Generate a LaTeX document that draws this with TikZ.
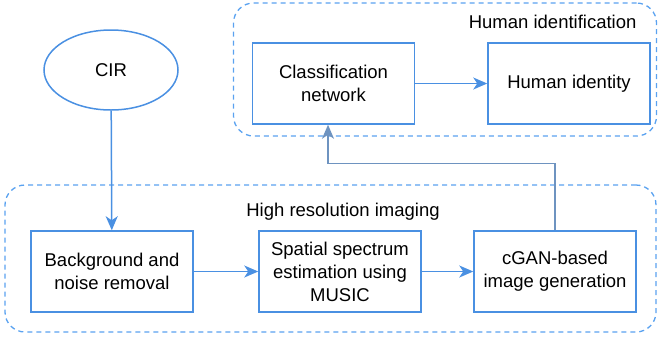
\documentclass[tikz,border=0pt]{standalone}
\usepackage{fontspec}
\setmainfont{Liberation Sans}
\usepackage{xcolor}
\usetikzlibrary{positioning,arrows.meta,shapes.geometric}
\definecolor{lineblue}{HTML}{4A90E2}
\definecolor{groupblue}{HTML}{5AA2F0}
\definecolor{fbgray}{HTML}{6E93C0}

\begin{document}
\begin{tikzpicture}[
  x=1pt, y=-1pt,
  font=\fontsize{18.5}{23}\selectfont,
  block/.style={draw=lineblue, line width=1.5pt, minimum width=162pt, minimum height=81pt, align=center, inner sep=2pt},
  source/.style={ellipse, draw=lineblue, line width=1.5pt, minimum width=134pt, minimum height=80pt},
  group/.style={draw=groupblue, line width=1.3pt, dashed, dash pattern=on 5pt off 4pt, rounded corners=20pt, minimum width=#1},
  arrow/.style={-{Stealth[length=14pt,width=12pt,inset=4pt]}, draw=lineblue, line width=1.5pt},
  fb/.style={arrow, draw=fbgray},
]
\useasboundingbox (0,0) rectangle (658,341);
% groups
\node[group=423pt, minimum height=133pt] (hidgrp) at (445,69.5) {};
\node[group=651pt, minimum height=147pt] (imggrp) at (330.5,258.5) {};
\node[anchor=east] (hidlbl) at (640,22) {Human identification};
\node (imglbl) at (343,212) {High resolution imaging};
% blocks
\node[source] (cir) at (111,70) {CIR};
\node[block] (cls) at (333.5,83.5) {Classification\\network};
\node[block] (hid) at (569,83.5) {Human identity};
\node[block] (bg) at (112,271.5) {Background and\\noise removal};
\node[block] (music) at (340,271.5) {Spatial spectrum\\estimation using\\MUSIC};
\node[block] (cgan) at (555,271.5) {cGAN-based\\image generation};
% arrows
\draw[arrow] (cir) -- (bg);
\draw[arrow] (bg) -- (music);
\draw[arrow] (music) -- (cgan);
\draw[fb] (cgan.north) -- ++(0,-67) -| ([xshift=-5.5pt]cls.south);
\draw[arrow] (cls) -- (hid);
\end{tikzpicture}
\end{document}
